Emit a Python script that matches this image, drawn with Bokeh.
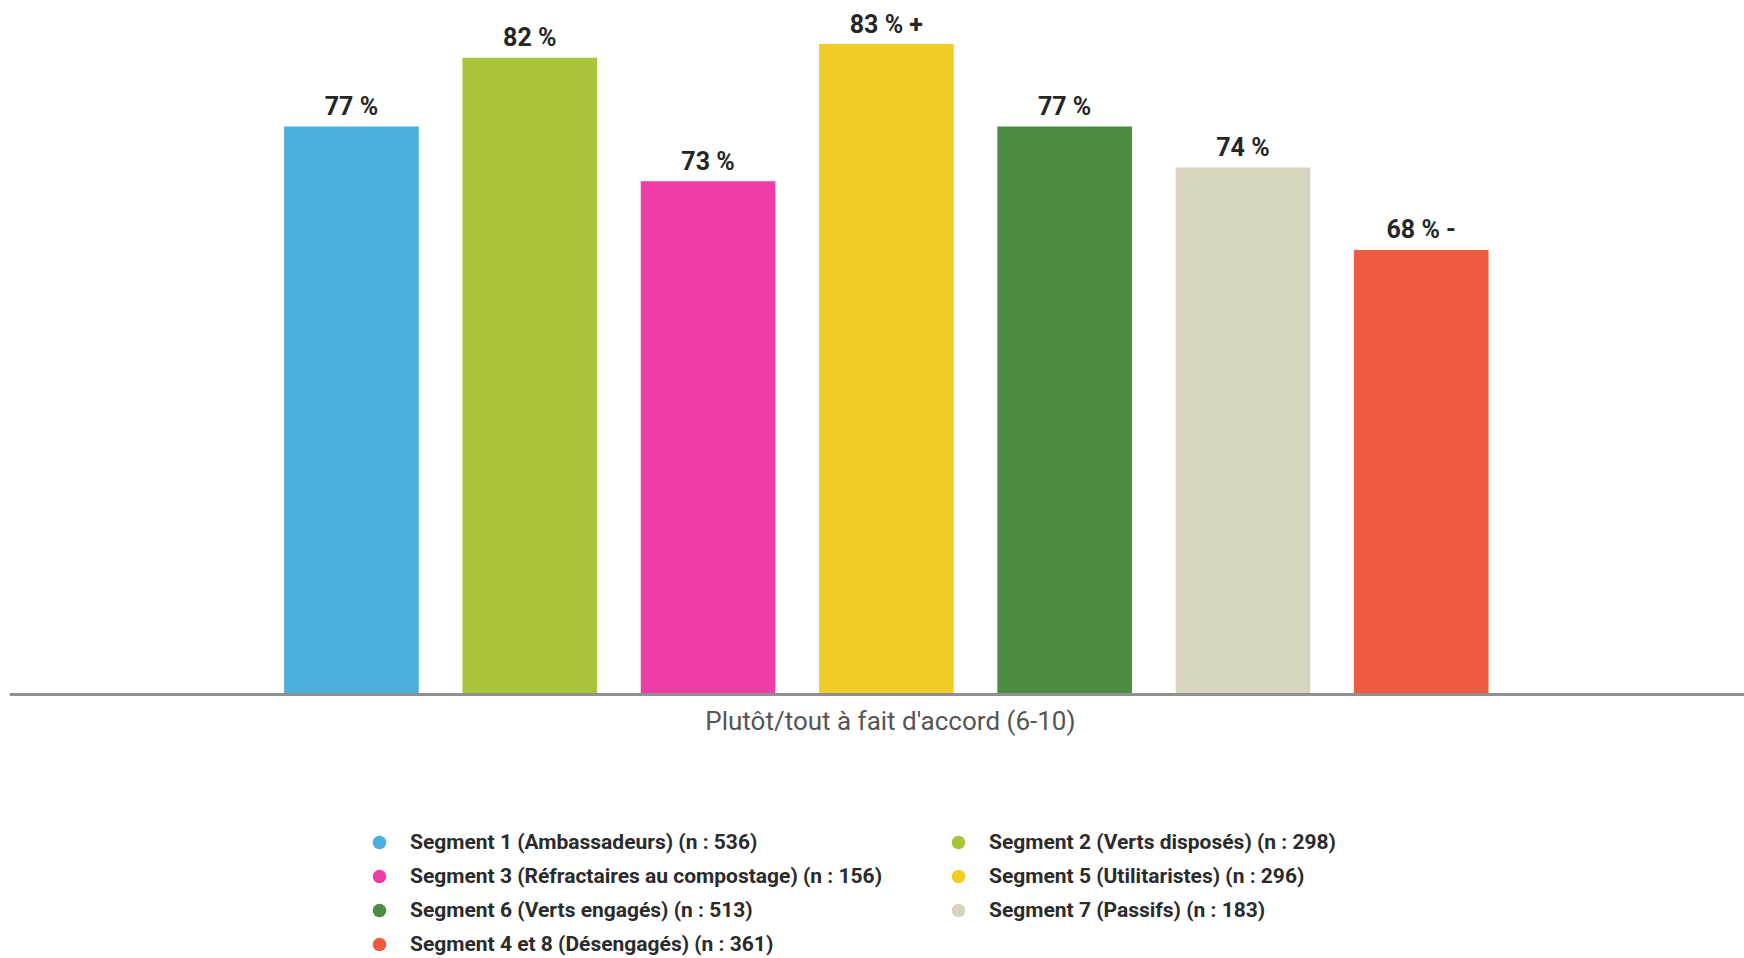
from bokeh.plotting import figure
from bokeh.models import ColumnDataSource, Range1d, Span, Legend, LegendItem
from bokeh.core.properties import value
from bokeh.embed import file_html
from bokeh.resources import INLINE

# ---- data ----
segments = [
    "Segment 1 (Ambassadeurs) (n : 536)",
    "Segment 2 (Verts disposés) (n : 298)",
    "Segment 3 (Réfractaires au compostage) (n : 156)",
    "Segment 5 (Utilitaristes) (n : 296)",
    "Segment 6 (Verts engagés) (n : 513)",
    "Segment 7 (Passifs) (n : 183)",
    "Segment 4 et 8 (Désengagés) (n : 361)",
]
values = [77, 82, 73, 83, 77, 74, 68]
significance = ["", "", "", " +", "", "", " -"]
colors = ["#4BAEDF", "#A7C43B", "#EF3DA7", "#F1CB26", "#4B8C40", "#D7D5BD", "#F05B40"]
category_label = "Plutôt/tout à fait d'accord (6-10)"

# ---- layout parameters ----
W, H = 1744, 958
LEFT_PAD = 9
BASE = 35.63           # visual baseline of the bars (truncated axis)
X_START, X_END = -1.918, 7.813
Y_START, Y_END = 16.40, 86.17
BAR_W = 0.755
FONT = "Roboto"

idx = list(range(len(segments)))
labels = [f"{v} %{s}" for v, s in zip(values, significance)]

src = ColumnDataSource(dict(
    x=idx, top=values, seg=segments, color=colors, label=labels,
    base=[BASE] * len(idx),
))

p = figure(width=W, height=H, output_backend="svg", toolbar_location=None,
           x_range=Range1d(X_START, X_END), y_range=Range1d(Y_START, Y_END),
           x_axis_location=None, y_axis_location=None,
           min_border=0, min_border_left=LEFT_PAD, outline_line_color=None)
p.xgrid.visible = False
p.ygrid.visible = False
p.background_fill_color = "white"
p.border_fill_color = "white"

p.vbar(x="x", top="top", bottom=BASE, width=BAR_W, source=src,
       fill_color="color", line_color=None)

# legend proxy (markers drawn only in legend)
proxy = p.scatter(x="x", y="base", source=src, size=0, marker="circle",
                  fill_color="color", line_color=None)

# value labels
p.text(x="x", y="top", text="label", source=src,
       text_font=value(FONT), text_font_size="25px", text_font_style="bold",
       text_color="#262626", text_align="center", text_baseline="alphabetic",
       y_offset=-20)

# category label under the baseline
p.text(x=[(len(idx) - 1) / 2], y=[BASE], text=[category_label],
       text_font=value(FONT), text_font_size="26px", text_color="#555555",
       text_align="center", text_baseline="middle", y_offset=27, x_offset=4)

# baseline axis line
p.add_layout(Span(location=BASE, dimension="width", line_color="#909092",
                  line_width=3))

legend = Legend(items=[LegendItem(label=s, renderers=[proxy], index=i)
                       for i, s in enumerate(segments)],
                location=(353, -3), orientation="horizontal", ncols=2,
                glyph_width=34, glyph_height=34, label_standoff=14,
                label_width=531, spacing=0, padding=0, margin=0,
                label_text_font=FONT, label_text_font_size="21px",
                label_text_font_style="bold", label_text_color="#2B2B2B",
                border_line_color=None, background_fill_alpha=0)
p.add_layout(legend)

open("out.html", "w").write(file_html(p, INLINE))
